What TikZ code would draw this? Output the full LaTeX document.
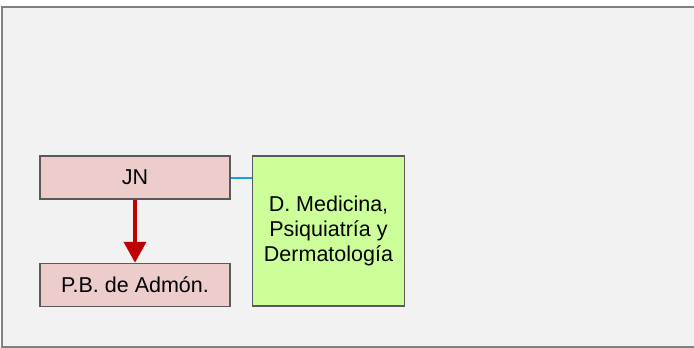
\documentclass[tikz,border=0pt]{standalone}
\usepackage{fontspec}
\setmainfont{Liberation Sans}
\usetikzlibrary{positioning,arrows.meta}
\definecolor{framegray}{HTML}{808080}
\definecolor{panelbg}{HTML}{F2F2F2}
\definecolor{boxline}{HTML}{595959}
\definecolor{unitpink}{HTML}{ECCDCC}
\definecolor{deptgreen}{HTML}{CCFF99}
\definecolor{linkblue}{HTML}{1BA1E2}
\definecolor{arrowred}{HTML}{C00000}
\begin{document}
\begin{tikzpicture}[x=1pt, y=-1pt,
    unit/.style={draw=boxline, line width=1.5pt, fill=unitpink, minimum width=190pt, minimum height=43pt, inner sep=0pt, align=center, font=\fontsize{21.5}{25}\selectfont},
    dept/.style={unit, fill=deptgreen, minimum width=152pt, minimum height=150pt}]
    \useasboundingbox (0,0) rectangle (694,348);
    \draw[draw=framegray, line width=2pt, fill=panelbg] (2,7) rectangle (700,347);
    \node[unit] (jn) at (135,177.5) {JN};
    \node[unit, below=63pt of jn] (pb) {P.B. de Admón.};
    \node[dept, right=21pt of jn.north east, anchor=north west] (dm) {D. Medicina,\\Psiquiatría y\\Dermatología};
    \draw[linkblue, line width=2pt] (jn.east) -- (jn.east -| dm.west);
    \draw[-{Triangle[width=22pt,length=21pt]}, arrowred, line width=4pt] (jn) -- (pb);
  \end{tikzpicture}
\end{document}
